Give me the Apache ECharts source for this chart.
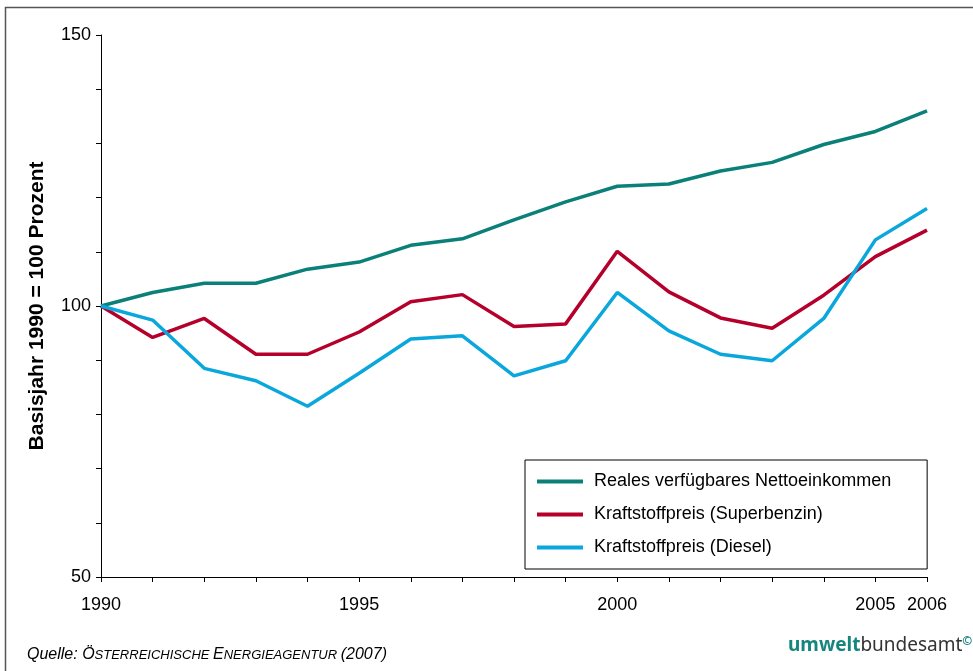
<!DOCTYPE html>
<html>
<head>
<meta charset="utf-8">
<script src="https://cdn.jsdelivr.net/npm/echarts@6/dist/echarts.min.js"></script>
<style>
html,body{margin:0;padding:0;background:#fff;}
#c{width:973px;height:671px;}
</style>
</head>
<body>
<div id="c"></div>
<script>
const years = ['1990','1991','1992','1993','1994','1995','1996','1997','1998','1999','2000','2001','2002','2003','2004','2005','2006'];
const shownYears = ['1990','1995','2000','2005','2006'];
const yTickLabels = [50, 100, 150];
const seriesNames = ['Reales verfügbares Nettoeinkommen', 'Kraftstoffpreis (Superbenzin)', 'Kraftstoffpreis (Diesel)'];
const einkommen = [100, 102.5, 104.2, 104.2, 106.8, 108.1, 111.2, 112.4, 115.9, 119.2, 122.1, 122.5, 124.9, 126.5, 129.8, 132.2, 136.0];
const superbenzin = [100, 94.2, 97.7, 91.1, 91.1, 95.2, 100.8, 102.1, 96.2, 96.7, 110.1, 102.6, 97.8, 95.9, 102.0, 109.1, 114.0];
const diesel = [100, 97.4, 88.5, 86.2, 81.5, 87.6, 93.9, 94.5, 87.1, 89.9, 102.5, 95.4, 91.1, 89.9, 97.7, 112.2, 118.0];
const colors = ['#0b8079', '#b5002b', '#0aa7dc'];

const chart = echarts.init(document.getElementById('c'), null, {renderer: 'canvas'});
const font = 'Liberation Sans, Arial, sans-serif';
const mk = (name, data, i) => ({
  name, type: 'line', data, symbol: 'none', smooth: false,
  lineStyle: {color: colors[i], width: 3.5},
  itemStyle: {color: colors[i]},
  animation: false
});
chart.setOption({
  animation: false,
  textStyle: {fontFamily: font},
  grid: {left: 101, right: 46, top: 35, bottom: 94, containLabel: false},
  xAxis: {
    type: 'category', data: years, boundaryGap: false,
    axisLine: {lineStyle: {color: '#000', width: 1}},
    axisTick: {show: true, interval: 0, length: 5, lineStyle: {color: '#000', width: 1}},
    axisLabel: {interval: 0, color: '#000', fontSize: 18, fontFamily: font, margin: 19,
      formatter: v => shownYears.includes(v) ? v : ''},
    splitLine: {show: false}
  },
  yAxis: {
    type: 'value', min: 50, max: 150, interval: 50,
    axisLine: {show: true, lineStyle: {color: '#000', width: 1}},
    axisTick: {show: true, length: 5, lineStyle: {color: '#000', width: 1}},
    minorTick: {show: true, splitNumber: 5, length: 5, lineStyle: {color: '#000', width: 1}},
    axisLabel: {color: '#000', fontSize: 18, fontFamily: font, margin: 10,
      formatter: v => yTickLabels.includes(v) ? String(v) : ''},
    splitLine: {show: false},
    name: 'Basisjahr 1990 = 100 Prozent',
    nameLocation: 'middle', nameGap: 53, nameRotate: 90,
    nameTextStyle: {fontSize: 21, fontWeight: 'bold', color: '#000', fontFamily: font}
  },
  legend: {
    orient: 'vertical', left: 525, top: 460,
    data: seriesNames,
    icon: 'rect', itemWidth: 46, itemHeight: 4, itemGap: 14,
    padding: [12, 36, 12, 12],
    borderColor: '#000', borderWidth: 1, backgroundColor: '#fff',
    textStyle: {fontSize: 18, color: '#000', fontFamily: font, lineHeight: 19, padding: [0,0,0,6]}
  },
  series: [mk(seriesNames[0], einkommen, 0), mk(seriesNames[1], superbenzin, 1), mk(seriesNames[2], diesel, 2)],
  graphic: [
    {type: 'rect', left: 3, top: 5, shape: {x: 0, y: 0, width: 1000, height: 700},
      style: {fill: 'none', stroke: '#555', lineWidth: 1.5}, silent: true, z: -1},
    {type: 'text', left: 27, top: 647, style: {
      text: '{a|Quelle: Ö}{b|STERREICHISCHE }{a|E}{b|NERGIEAGENTUR }{a|(2007)}',
      rich: {
        a: {fontSize: 16, fontStyle: 'italic', fill: '#000', fontFamily: font},
        b: {fontSize: 13, fontStyle: 'italic', fill: '#000', fontFamily: font}
      }
    }},
    {type: 'text', left: 788, top: 636, style: {
      text: '{u|umwelt}{v|bundesamt}{w|©}',
      rich: {
        u: {fontSize: 19, fontWeight: 'bold', fill: '#15857d', fontFamily: 'Noto Sans, sans-serif'},
        v: {fontSize: 19, fill: '#333', fontFamily: 'Noto Sans, sans-serif'},
        w: {fontSize: 12, fontWeight: 'bold', fill: '#15857d', verticalAlign: 'top', fontFamily: 'Noto Sans, sans-serif'}
      }
    }}
  ]
});
</script>
</body>
</html>
